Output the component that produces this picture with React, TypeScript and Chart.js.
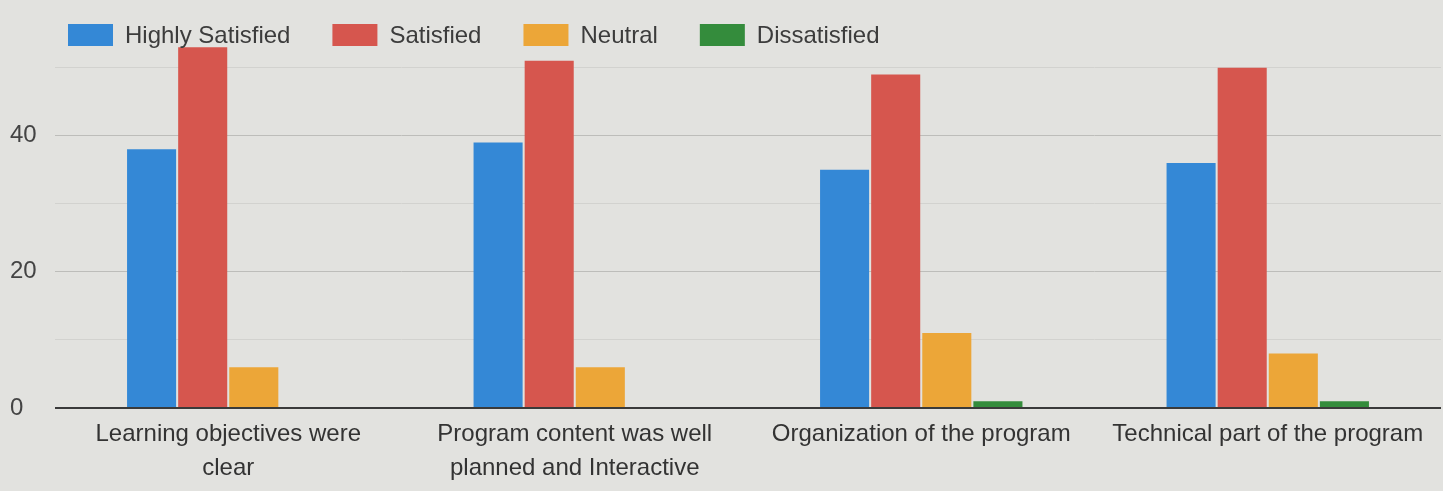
import React, { useEffect, useRef } from 'react';
import { Chart, registerables } from 'chart.js';

Chart.register(...registerables);

const categories: (string | string[])[] = [
  ['Learning objectives were', 'clear'],
  ['Program content was well', 'planned and Interactive'],
  'Organization of the program',
  'Technical part of the program',
];
const seriesNames = ['Highly Satisfied', 'Satisfied', 'Neutral', 'Dissatisfied'];
const highlySatisfied = [38, 39, 35, 36];
const satisfied = [53, 51, 49, 50];
const neutral = [6, 6, 11, 8];
const dissatisfied = [0, 0, 1, 1];
const seriesColors = ['#3488d6', '#d6564e', '#eca638', '#348c3c'];
const yTickLabels = [0, 20, 40];

const FONT = '"Liberation Sans", Arial, sans-serif';

const legendPlugin = {
  id: 'topLegend',
  afterDraw(chart: any) {
    const ctx = chart.ctx;
    ctx.save();
    ctx.font = `24px ${FONT}`;
    ctx.textBaseline = 'middle';
    let x = 68;
    const cy = 35;
    const bw = 45;
    const bh = 22;
    chart.data.datasets.forEach((ds: any) => {
      ctx.fillStyle = ds.backgroundColor;
      ctx.fillRect(x, cy - bh / 2, bw, bh);
      x += bw + 12;
      ctx.fillStyle = '#3c3c3c';
      ctx.fillText(ds.label, x, cy + 1);
      x += ctx.measureText(ds.label).width + 42;
    });
    ctx.restore();
  },
};

export default function App() {
  const ref = useRef<HTMLCanvasElement | null>(null);

  useEffect(() => {
    document.body.style.margin = '0';
    const values = [highlySatisfied, satisfied, neutral, dissatisfied];
    const chart = new Chart(ref.current as HTMLCanvasElement, {
      type: 'bar',
      data: {
        labels: categories,
        datasets: seriesNames.map((name, i) => ({
          label: name,
          data: values[i],
          backgroundColor: seriesColors[i],
          borderWidth: 0,
          categoryPercentage: 0.59,
          barPercentage: 0.96,
        })),
      },
      options: {
        animation: false,
        responsive: false,
        maintainAspectRatio: false,
        layout: { padding: { left: 10, top: 20, right: 2, bottom: 0 } },
        plugins: {
          legend: { display: false },
          tooltip: { enabled: false },
        },
        scales: {
          x: {
            grid: { display: false, drawTicks: false },
            border: { display: false },
            ticks: {
              color: '#333333',
              font: { family: FONT, size: 24, lineHeight: 1.4 },
              padding: 10,
              maxRotation: 0,
              minRotation: 0,
              autoSkip: false,
            },
            afterFit: (scale: any) => {
              scale.height = 83;
            },
          },
          y: {
            min: 0,
            max: 57,
            border: { display: false },
            grid: {
              drawTicks: false,
              color: (c: any) =>
                c.tick && c.tick.value === 0
                  ? '#3a3a3a'
                  : c.tick && c.tick.value % 20 === 0
                  ? '#bdbdba'
                  : '#d2d2cf',
              lineWidth: (c: any) => (c.tick && c.tick.value === 0 ? 2 : 1),
            },
            afterBuildTicks: (scale: any) => {
              scale.ticks = scale.ticks.filter((t: any) => t.value % 10 === 0);
            },
            ticks: {
              stepSize: 10,
              color: '#444444',
              crossAlign: 'far',
              padding: 0,
              font: { family: FONT, size: 24 },
              callback: (v: any) => (yTickLabels.includes(Number(v)) ? String(v) : ''),
            },
            afterFit: (scale: any) => {
              scale.width = 45;
            },
          },
        },
      },
      plugins: [legendPlugin],
    });
    return () => chart.destroy();
  }, []);

  return (
    <div style={{ width: 1443, height: 491, background: '#e2e2df', position: 'relative' }}>
      <canvas ref={ref} width={1443} height={491} style={{ display: 'block' }} />
    </div>
  );
}
